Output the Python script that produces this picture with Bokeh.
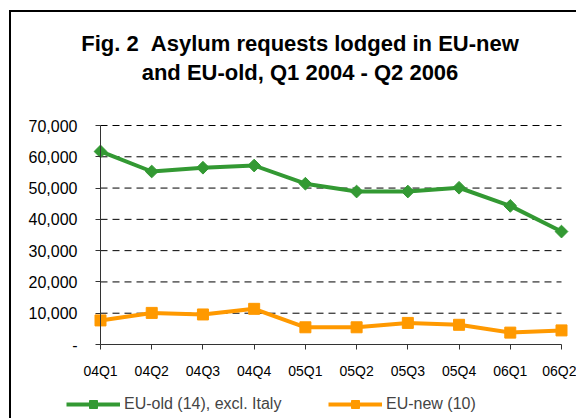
from bokeh.plotting import figure
from bokeh.models import Range1d, FixedTicker, Legend, LegendItem, Label
from bokeh.embed import file_html
from bokeh.resources import INLINE
import math

quarters = ["04Q1", "04Q2", "04Q3", "04Q4", "05Q1", "05Q2", "05Q3", "05Q4", "06Q1", "06Q2"]
eu_old = [61700, 55300, 56500, 57200, 51400, 48900, 48900, 50100, 44300, 36100]
eu_new = [7700, 10100, 9600, 11400, 5500, 5500, 6900, 6300, 3800, 4500]
y_ticks = [0, 10000, 20000, 30000, 40000, 50000, 60000, 70000]
y_tick_labels = ["-", "10,000", "20,000", "30,000", "40,000", "50,000", "60,000", "70,000"]
title_line1 = "Fig. 2\u00a0\u00a0Asylum requests lodged in EU-new"
title_line2 = "and EU-old, Q1 2004 - Q2 2006"

GREEN = "#339933"
ORANGE = "#FF9900"
FONT = "Liberation Sans"

xs = list(range(len(quarters)))

# ---- layout (page pixels) ----
CANVAS_LEFT, CANVAS_TOP, CANVAS_W, CANVAS_H = 11, 12, 565, 406
AX_LEFT_PX, AX_RIGHT_PX = 100, 561      # first / last category
AX_TOP_PX, AX_ZERO_PX = 125, 344        # y max / y zero
Y_MAX = y_ticks[-1]

kx = (AX_RIGHT_PX - AX_LEFT_PX) / (len(quarters) - 1)
ky = (AX_ZERO_PX - AX_TOP_PX) / Y_MAX
x_start = xs[0] - (AX_LEFT_PX - CANVAS_LEFT) / kx
x_end = xs[-1] + (CANVAS_LEFT + CANVAS_W - AX_RIGHT_PX) / kx
y_end = Y_MAX + (AX_TOP_PX - CANVAS_TOP) / ky
y_start = -(CANVAS_TOP + CANVAS_H - AX_ZERO_PX) / ky


def px_x(px):
    return xs[0] + (px - AX_LEFT_PX) / kx


def px_y(py):
    return (AX_ZERO_PX - py) / ky


p = figure(width=CANVAS_W, height=CANVAS_H, output_backend="svg", toolbar_location=None,
           title=None,
           x_range=Range1d(x_start, x_end), y_range=Range1d(y_start, y_end),
           frame_width=CANVAS_W, frame_height=CANVAS_H, min_border=0)
p.margin = (10, 0, 0, 9)
p.styles = {"border-left": "2px solid #000000", "border-top": "2px solid #000000"}
p.outline_line_color = None
p.background_fill_color = "white"
p.border_fill_color = "white"

# title lines
for txt, ypx in ((title_line1, 43), (title_line2, 72)):
    p.add_layout(Label(x=px_x(299.5), y=px_y(ypx), text=txt, text_align="center",
                       text_baseline="middle", text_font=FONT, text_font_size="22px",
                       text_font_style="bold", text_color="black"))

# axes, placed at the data origin
xax = p.xaxis[0]
yax = p.yaxis[0]
xax.fixed_location = 0
yax.fixed_location = xs[0]
xax.bounds = (xs[0], xs[-1])
yax.bounds = (0, Y_MAX)
xax.ticker = FixedTicker(ticks=xs)
xax.major_label_overrides = {i: q for i, q in zip(xs, quarters)}
yax.ticker = FixedTicker(ticks=y_ticks)
yax.major_label_overrides = {t: l for t, l in zip(y_ticks, y_tick_labels)}
for ax in (xax, yax):
    ax.axis_line_color = "#333333"
    ax.major_tick_line_color = "#333333"
    ax.minor_tick_line_color = None
    ax.major_tick_in = 0
    ax.major_tick_out = 5
    ax.major_label_text_font = FONT
    ax.major_label_text_color = "black"
xax.major_label_text_font_size = "14px"
yax.major_label_text_font_size = "16px"
xax.major_label_standoff = 13
yax.major_label_standoff = 18

# dashed horizontal gridlines between first and last category
p.xgrid.grid_line_color = None
p.ygrid.grid_line_color = None
grid_y = y_ticks[1:]
p.segment(x0=[xs[0]] * len(grid_y), x1=[xs[-1]] * len(grid_y), y0=grid_y, y1=grid_y,
          line_color="black", line_dash="7 5", line_width=1)

l1 = p.line(xs, eu_old, line_color=GREEN, line_width=4)
s1 = p.scatter(xs, eu_old, marker="square", angle=math.pi / 4, size=9,
               fill_color=GREEN, line_color=GREEN)
l2 = p.line(xs, eu_new, line_color=ORANGE, line_width=4)
s2 = p.scatter(xs, eu_new, marker="square", size=11, fill_color=ORANGE, line_color=ORANGE)

legend = Legend(items=[LegendItem(label="EU-old (14), excl. Italy", renderers=[l1, s1]),
                       LegendItem(label="EU-new (10)", renderers=[l2, s2])],
                location=(66 - CANVAS_LEFT, CANVAS_TOP + CANVAS_H - 414),
                orientation="horizontal",
                glyph_width=54, glyph_height=20, label_standoff=4, label_width=169,
                spacing=35, padding=0, margin=0, border_line_color=None,
                background_fill_alpha=0,
                label_text_font=FONT, label_text_font_size="16px")
p.add_layout(legend)

open("out.html", "w").write(file_html(p, INLINE))
